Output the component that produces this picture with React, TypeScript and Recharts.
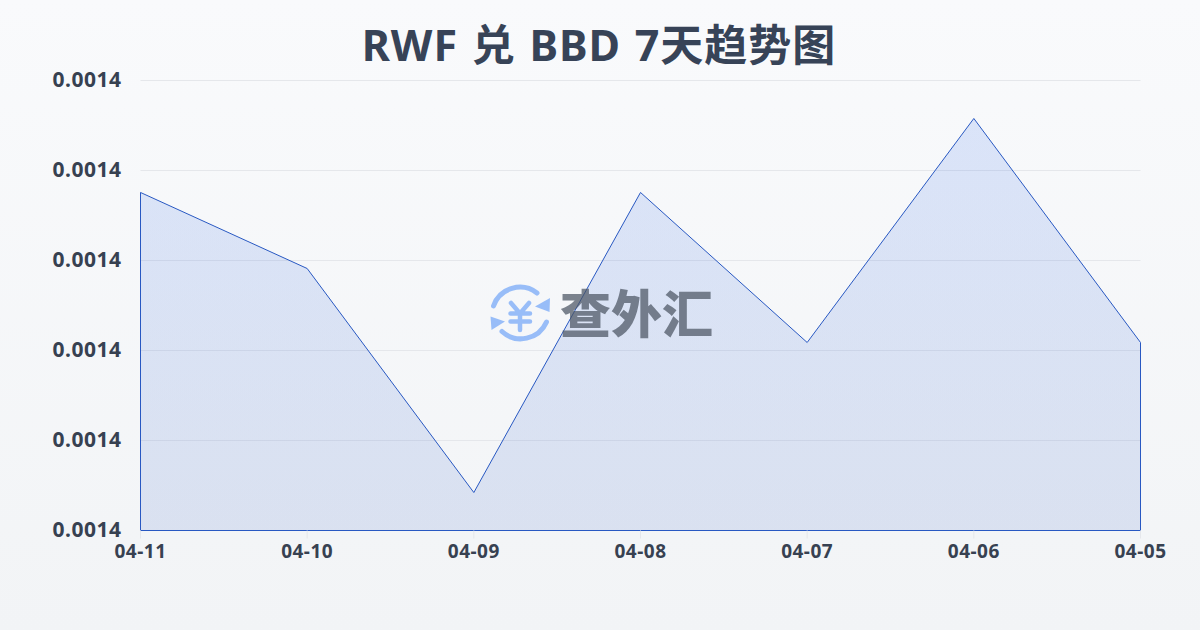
import React from 'react';
import { AreaChart, Area, XAxis, YAxis, CartesianGrid, ReferenceLine } from 'recharts';

const dates = ['04-11', '04-10', '04-09', '04-08', '04-07', '04-06', '04-05'];
const rates = [0.00139756, 0.00138911, 0.00136422, 0.00139756, 0.00138089, 0.00140578, 0.00138089];
const rateTicks = [0.00136, 0.00137, 0.00138, 0.00139, 0.0014, 0.00141];

const LINE = '#2858c2';
const TEXT = '#374151';
const data = dates.map((date, i) => ({ date, rate: rates[i] }));
const first = dates[0];
const last = dates[dates.length - 1];
const floor = rateTicks[0];

const Watermark = () => (
  <svg width={260} height={90} viewBox="0 0 260 90" style={{ position: 'absolute', left: 480, top: 270 }}>
    <g fill="none" stroke="#98bdf8" strokeWidth={5} strokeLinecap="round" strokeLinejoin="round">
      <path d="M13.5 36 A28 28 0 0 1 57 23" />
      <path d="M66.5 52 A28 28 0 0 1 22 61.5" />
      <path d="M31 33 L40 43.5 L49 33 M40 43.5 V60 M30.5 43.5 H50 M30.5 51.5 H50" strokeWidth={4.5} />
    </g>
    <path d="M70 28 L69.5 42 L55 36.5 Z" fill="#98bdf8" />
    <path d="M10.5 46.5 L25 51.5 L11.5 60 Z" fill="#98bdf8" />
    <text x={80} y={63} fontFamily="'Noto Sans CJK SC'" fontWeight={900} fontSize={51} fill="#4b5563" fillOpacity={0.72}>
      查外汇
    </text>
  </svg>
);

export default function App() {
  return (
    <div
      style={{
        position: 'absolute',
        left: 0,
        top: 0,
        width: 1200,
        height: 630,
        background: 'linear-gradient(180deg, #f9fafc 0%, #f2f4f6 100%)',
      }}
    >
      <div
        style={{
          position: 'absolute',
          left: 0,
          top: 13,
          width: 1198,
          textAlign: 'center',
          fontFamily: "'Noto Sans', 'Noto Sans CJK SC'",
          fontWeight: 700,
          fontSize: 43,
          letterSpacing: 1,
          wordSpacing: 1.5,
          lineHeight: '64px',
          color: '#374357',
        }}
      >
        RWF 兑 BBD 7天趋势图
      </div>
      <AreaChart
        width={1200}
        height={630}
        data={data}
        margin={{ top: 80.5, right: 59.5, bottom: 69.5, left: 0 }}
        style={{ position: 'absolute', left: 0, top: 0 }}
      >
        <defs>
          <linearGradient id="rateFill" x1="0" y1="0" x2="0" y2="1">
            <stop offset="0%" stopColor="#2563eb" stopOpacity={0.14} />
            <stop offset="100%" stopColor="#2050c0" stopOpacity={0.12} />
          </linearGradient>
        </defs>
        <CartesianGrid vertical={false} stroke="#e5e7eb" strokeWidth={1} />
        <XAxis
          dataKey="date"
          axisLine={false}
          tickLine={{ stroke: '#e5e7eb' }}
          tickSize={8}
          tickMargin={6}
          interval={0}
          tick={{ fill: TEXT, fontSize: 19, letterSpacing: 0.5, fontWeight: 700, fontFamily: "'Noto Sans'" }}
        />
        <YAxis
          width={140.5}
          domain={[rateTicks[0], rateTicks[rateTicks.length - 1]]}
          ticks={rateTicks}
          tickFormatter={(v: number) => v.toFixed(4)}
          axisLine={false}
          tickLine={false}
          tickMargin={13}
          tick={{ fill: TEXT, fontSize: 21, letterSpacing: 0.5, fontWeight: 700, fontFamily: "'Noto Sans'", dy: -1 }}
        />
        <Area
          type="linear"
          dataKey="rate"
          stroke={LINE}
          strokeWidth={1}
          fill="url(#rateFill)"
          fillOpacity={1}
          dot={false}
          activeDot={false}
          isAnimationActive={false}
        />
        <ReferenceLine y={floor} stroke={LINE} strokeWidth={1} />
        <ReferenceLine segment={[{ x: first, y: floor }, { x: first, y: rates[0] }]} stroke={LINE} strokeWidth={1} />
        <ReferenceLine segment={[{ x: last, y: floor }, { x: last, y: rates[rates.length - 1] }]} stroke={LINE} strokeWidth={1} />
      </AreaChart>
      <Watermark />
    </div>
  );
}
